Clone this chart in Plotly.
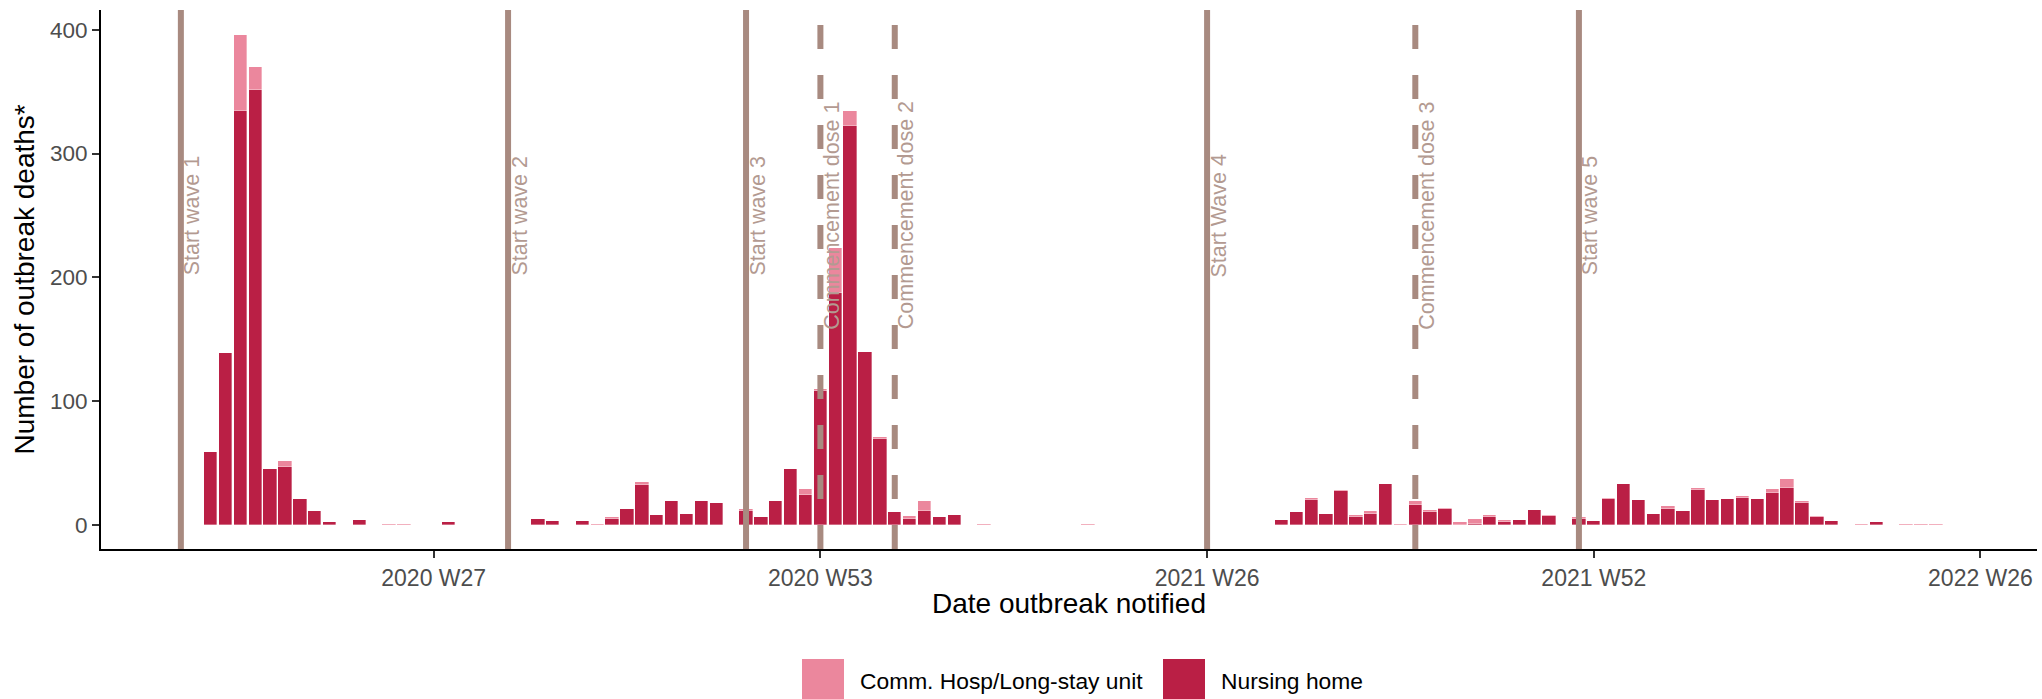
import plotly.graph_objects as go

# Weekly outbreak deaths by setting (ISO week of notification)
weeks = [
    "2020 W12", "2020 W13", "2020 W14", "2020 W15", "2020 W16", "2020 W17", "2020 W18",
    "2020 W19", "2020 W20", "2020 W22", "2020 W24", "2020 W25", "2020 W28", "2020 W34",
    "2020 W35", "2020 W37", "2020 W38", "2020 W39", "2020 W40", "2020 W41", "2020 W42",
    "2020 W43", "2020 W44", "2020 W45", "2020 W46", "2020 W48", "2020 W49", "2020 W50",
    "2020 W51", "2020 W52", "2020 W53", "2021 W1", "2021 W2", "2021 W3", "2021 W4",
    "2021 W5", "2021 W6", "2021 W7", "2021 W8", "2021 W9", "2021 W11", "2021 W18",
    "2021 W31", "2021 W32", "2021 W33", "2021 W34", "2021 W35", "2021 W36", "2021 W37",
    "2021 W38", "2021 W39", "2021 W40", "2021 W41", "2021 W42", "2021 W43", "2021 W44",
    "2021 W45", "2021 W46", "2021 W47", "2021 W48", "2021 W49", "2021 W51", "2021 W52",
    "2022 W1", "2022 W2", "2022 W3", "2022 W4", "2022 W5", "2022 W6", "2022 W7",
    "2022 W8", "2022 W9", "2022 W10", "2022 W11", "2022 W12", "2022 W13", "2022 W14",
    "2022 W15", "2022 W16", "2022 W18", "2022 W19", "2022 W21", "2022 W22", "2022 W23",
]
nursing_home = [
    59, 139, 334, 351, 45, 47, 21,
    11, 2, 4, 0, 0, 2, 5,
    3, 3, 0, 5, 13, 32, 8,
    19, 9, 19, 18, 11, 6, 19,
    45, 24, 108, 187, 322, 140, 69,
    10, 5, 11, 6, 8, 0, 0,
    4, 10, 20, 9, 27, 6, 9,
    33, 0, 16, 10, 13, 0, 1,
    6, 2, 4, 12, 7, 5, 3,
    21, 33, 20, 9, 13, 11, 28,
    20, 21, 22, 21, 26, 30, 18,
    6, 3, 0, 2, 0, 0, 0,
]
comm_hosp = [
    0, 0, 62, 19, 0, 5, 0,
    0, 0, 0, 1, 1, 0, 0,
    0, 0, 1, 1, 0, 3, 0,
    0, 0, 0, 0, 2, 0, 0,
    0, 5, 2, 37, 12, 0, 2,
    0, 2, 8, 0, 0, 1, 1,
    0, 0, 2, 0, 1, 2, 2,
    0, 1, 3, 2, 1, 2, 4,
    2, 2, 0, 0, 1, 1, 0,
    1, 0, 0, 0, 2, 0, 2,
    0, 0, 1, 0, 3, 7, 1,
    1, 0, 1, 0, 1, 1, 1,
]

tick_weeks = ["2020 W27", "2020 W53", "2021 W26", "2021 W52", "2022 W26"]
y_ticks = [0, 100, 200, 300, 400]

event_labels = ["Start wave 1", "Start wave 2", "Start wave 3", "Commencement dose 1",
                "Commencement dose 2", "Start Wave 4", "Commencement dose 3", "Start wave 5"]
event_weeks = ["2020 W10", "2020 W32", "2020 W48", "2020 W53",
               "2021 W5", "2021 W26", "2021 W40", "2021 W51"]
event_dashed = [False, False, False, True, True, False, True, False]
event_label_y = 250

# 2020 has 53 ISO weeks, 2021 has 52
YEAR_OFFSET = {2020: 0, 2021: 53, 2022: 105}


def week_index(label):
    year, wk = label.split(" W")
    return YEAR_OFFSET[int(year)] + int(wk)


x = [week_index(w) for w in weeks]

NH_COLOR = "#BA1F45"
CH_COLOR = "#EB879D"
EVENT_COLOR = "#A88A80"
EVENT_TEXT = "#B39A91"
FONT = "Liberation Sans, Arial, sans-serif"
BAR_EDGE = dict(color="rgba(255,255,255,0.85)", width=0.4)

W, H = 2042, 699
M_L, M_R, M_T, M_B = 101, 5, 10, 150

fig = go.Figure()
fig.add_trace(go.Bar(
    x=x, y=nursing_home, name="Nursing home", width=0.9,
    marker=dict(color=NH_COLOR, line=BAR_EDGE),
))
fig.add_trace(go.Bar(
    x=x, y=comm_hosp, name="Comm. Hosp/Long-stay unit", width=0.9,
    marker=dict(color=CH_COLOR, line=BAR_EDGE),
))

shapes = []
annotations = []
for label, wk, dashed in zip(event_labels, event_weeks, event_dashed):
    xi = week_index(wk)
    shapes.append(dict(
        type="line", xref="x", yref="paper", x0=xi, x1=xi, y0=0, y1=1,
        line=dict(color=EVENT_COLOR, width=6, dash="24px,26px" if dashed else "solid"),
        layer="above",
    ))
    annotations.append(dict(
        x=xi, y=event_label_y, xref="x", yref="y", text=label, textangle=-90,
        showarrow=False, xshift=12, xanchor="center", yanchor="middle",
        font=dict(family=FONT, size=21.5, color=EVENT_TEXT),
    ))

plot_w = W - M_L - M_R
plot_h = H - M_T - M_B


def px_x(px):
    return (px - M_L) / plot_w


def px_y(py):
    return (H - M_B - py) / plot_h


# axis titles
annotations.append(dict(
    x=0.5, y=px_y(603), xref="paper", yref="paper", text="Date outbreak notified",
    showarrow=False, xanchor="center", yanchor="middle",
    font=dict(family=FONT, size=28, color="black"),
))
annotations.append(dict(
    x=px_x(24), y=0.5, xref="paper", yref="paper", text="Number of outbreak deaths*",
    textangle=-90, showarrow=False, xanchor="center", yanchor="middle",
    font=dict(family=FONT, size=28, color="black"),
))

# legend drawn at the bottom: swatch + label
legend_items = [("Comm. Hosp/Long-stay unit", CH_COLOR, 802), ("Nursing home", NH_COLOR, 1163)]
for name, color, left in legend_items:
    shapes.append(dict(
        type="rect", xref="paper", yref="paper",
        x0=px_x(left), x1=px_x(left + 42), y0=px_y(701), y1=px_y(659),
        fillcolor=color, line=dict(width=0), layer="above",
    ))
    annotations.append(dict(
        x=px_x(left + 56), y=px_y(681), xref="paper", yref="paper", text=name,
        showarrow=False, xanchor="left", yanchor="middle",
        font=dict(family=FONT, size=22.8, color="black"),
    ))

fig.update_layout(
    width=W, height=H,
    margin=dict(l=M_L, r=M_R, t=M_T, b=M_B, autoexpand=False),
    barmode="stack",
    bargap=0,
    showlegend=False,
    plot_bgcolor="white",
    paper_bgcolor="white",
    font=dict(family=FONT),
    shapes=shapes,
    annotations=annotations,
)
fig.update_xaxes(
    range=[4.63, 134.8],
    tickmode="array",
    tickvals=[week_index(t) for t in tick_weeks],
    ticktext=tick_weeks,
    ticks="outside", ticklen=7, tickwidth=1.5, tickcolor="#333333",
    tickfont=dict(family=FONT, size=23, color="#4D4D4D"),
    showline=True, linecolor="black", linewidth=2,
    showgrid=False, zeroline=False,
)
fig.update_yaxes(
    range=[-19.5, 416],
    tickmode="array",
    tickvals=y_ticks,
    ticks="outside", ticklen=7, tickwidth=1.5, tickcolor="#333333",
    tickfont=dict(family=FONT, size=22.5, color="#4D4D4D"),
    showline=True, linecolor="black", linewidth=2,
    showgrid=False, zeroline=False,
)

fig.write_html("out.html")
